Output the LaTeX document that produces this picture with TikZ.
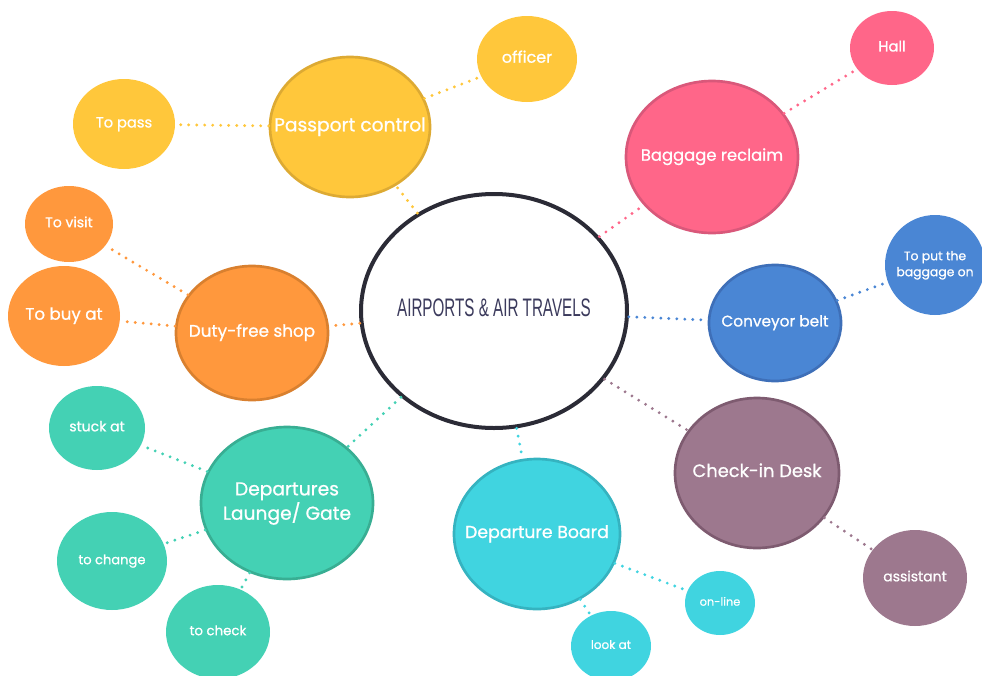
\documentclass[tikz,border=0pt]{standalone}
\usepackage{fontspec}
\setmainfont{Poppins}[FakeBold=0.8]
\newfontfamily\titlefont[FakeStretch=0.6]{Liberation Sans}
\usetikzlibrary{shapes.geometric}
\definecolor{apdark}{HTML}{2B2B36}
\definecolor{aptitle}{HTML}{3B3A5C}
\definecolor{apyellow}{HTML}{FFC73B}
\definecolor{apyellowd}{HTML}{DDAA33}
\definecolor{appink}{HTML}{FF6689}
\definecolor{appinkd}{HTML}{D9587A}
\definecolor{apblue}{HTML}{4A86D4}
\definecolor{apblued}{HTML}{3E6FB8}
\definecolor{apmauve}{HTML}{9D788E}
\definecolor{apmauved}{HTML}{7E5B70}
\definecolor{apcyan}{HTML}{40D4E0}
\definecolor{apcyand}{HTML}{35B3C0}
\definecolor{apteal}{HTML}{44D1B4}
\definecolor{aptealad}{HTML}{38AE93}
\definecolor{aporange}{HTML}{FF983D}
\definecolor{aporanged}{HTML}{D9802F}
\newcommand{\bubtext}[1]{\makebox[0pt]{\begin{tabular}{@{}c@{}}#1\end{tabular}}}

\begin{document}
\begin{tikzpicture}[x=0.75pt, y=-0.75pt,
  bub/.style 2 args={ellipse, inner sep=0pt, text=white,
    minimum width=#1*1.5pt, minimum height=#2*1.5pt},
  hub/.style={line width=2pt, font=\fontsize{13}{15}\selectfont},
  leaf/.style={font=\fontsize{10.5}{12.5}\selectfont},
  link/.style={line width=2.4pt, line cap=round, dash pattern=on 0pt off 6pt}]
\useasboundingbox (0,0) rectangle (982,675);

% Centre
\node[bub={133}{117}, draw=apdark, line width=3pt, fill=white, text=aptitle,
  font=\titlefont\fontsize{19}{21}\selectfont] (air) at (494,311) {\bubtext{AIRPORTS \& AIR TRAVELS}};

% Passport control
\node[bub={80}{70}, hub, fill=apyellow, draw=apyellowd, font=\fontsize{14}{16}\selectfont] (pass) at (350,127) {\bubtext{Passport control}};
\node[bub={50}{43}, leaf, fill=apyellow, font=\fontsize{12}{14}\selectfont] (officer) at (527,59) {\bubtext{officer}};
\node[bub={51}{45}, leaf, fill=apyellow, font=\fontsize{11}{13}\selectfont] (topass) at (124,124) {\bubtext{To pass}};

% Baggage reclaim
\node[bub={86}{76}, hub, fill=appink, draw=appinkd, font=\fontsize{12.3}{14}\selectfont] (bag) at (712,157) {\bubtext{Baggage reclaim}};
\node[bub={42}{37}, leaf, fill=appink, font=\fontsize{11}{13}\selectfont] (hall) at (892,48) {\bubtext{Hall}};

% Conveyor belt
\node[bub={66}{58}, hub, fill=apblue, draw=apblued, font=\fontsize{11.5}{13}\selectfont] (conv) at (775,323) {\bubtext{Conveyor belt}};
\node[bub={50}{50}, leaf, fill=apblue, font=\fontsize{9.3}{12}\selectfont] (put) at (935,265) {\bubtext{To put the\\baggage on}};

% Check-in desk
\node[bub={82}{75}, hub, fill=apmauve, draw=apmauved, font=\fontsize{13.4}{15}\selectfont] (desk) at (757,473) {\bubtext{Check-in Desk}};
\node[bub={52}{48}, leaf, fill=apmauve] (assist) at (915,578) {\bubtext{assistant}};

% Departure board
\node[bub={83}{75}, hub, fill=apcyan, draw=apcyand] (board) at (537,534) {\bubtext{Departure Board}};
\node[bub={35}{32}, leaf, fill=apcyan, font=\fontsize{8.5}{10}\selectfont] (online) at (720,603) {\bubtext{on-line}};
\node[bub={40}{35}, leaf, fill=apcyan, font=\fontsize{9}{11}\selectfont] (lookat) at (611,646) {\bubtext{look at}};

% Departures lounge
\node[bub={86}{76}, hub, fill=apteal, draw=aptealad, font=\fontsize{14}{17}\selectfont] (lounge) at (287,503) {\bubtext{Departures\\Launge/ Gate}};
\node[bub={48}{42}, leaf, fill=apteal] (stuck) at (97,428) {\bubtext{stuck at}};
\node[bub={55}{49}, leaf, fill=apteal, font=\fontsize{9.8}{12}\selectfont] (change) at (112,561) {\bubtext{to change}};
\node[bub={52}{47}, leaf, fill=apteal, font=\fontsize{10}{12}\selectfont] (tocheck) at (218,632) {\bubtext{to check}};

% Duty-free shop
\node[bub={76}{67}, hub, fill=aporange, draw=aporanged, font=\fontsize{12.6}{14}\selectfont] (duty) at (252,333) {\bubtext{Duty-free shop}};
\node[bub={44}{38}, leaf, fill=aporange, font=\fontsize{10.5}{12}\selectfont] (visit) at (69,224) {\bubtext{To visit}};
\node[bub={56}{50}, leaf, fill=aporange, font=\fontsize{12.5}{14}\selectfont] (buy) at (64,316) {\bubtext{To buy at}};

% Dotted connectors
\draw[link, apyellow] (air) -- (pass);
\draw[link, apyellow] (pass) -- (topass);
\draw[link, apyellow] (pass) -- (officer);
\draw[link, appink] (air) -- (bag);
\draw[link, appink] (bag) -- (hall);
\draw[link, apblue] (air) -- (conv);
\draw[link, apblue] (conv) -- (put);
\draw[link, apmauve] (air) -- (desk);
\draw[link, apmauve] (desk) -- (assist);
\draw[link, apcyan] (air) -- (board);
\draw[link, apcyan] (board) -- (online);
\draw[link, apcyan] (board) -- (lookat);
\draw[link, apteal] (air) -- (lounge);
\draw[link, apteal] (lounge) -- (stuck);
\draw[link, apteal] (lounge) -- (change);
\draw[link, apteal] (lounge) -- (tocheck);
\draw[link, aporange] (air) -- (duty);
\draw[link, aporange] (duty) -- (visit);
\draw[link, aporange] (duty) -- (buy);
\end{tikzpicture}
\end{document}
